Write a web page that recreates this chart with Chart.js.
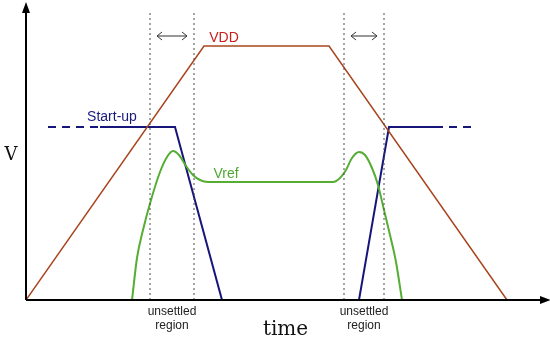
<!DOCTYPE html>
<html>
<head>
<meta charset="utf-8">
<script src="https://cdn.jsdelivr.net/npm/chart.js@4.4.1/dist/chart.umd.min.js"></script>
<style>
  html, body { margin: 0; padding: 0; background: #fff; }
  #wrap { width: 550px; height: 340px; }
</style>
</head>
<body>
<div id="wrap"><canvas id="chart" width="550" height="340"></canvas></div>
<script>
// time / voltage in arbitrary units
const vddT = [0, 178, 303, 481];
const vddV = [0, 254, 254, 0];

const startT = [74, 149, 196, 333, 363, 409];
const startV = [173, 173, 0, 0, 173, 173];
const startDashLeftT = [22, 74];
const startDashRightT = [409, 449];
const startLevel = 173;

const vrefT = [106, 111, 117, 125, 134, 141, 147, 153, 160, 167, 174, 182, 307, 314, 320, 326, 333, 339, 346, 352, 358, 364, 370, 376];
const vrefV = [0, 42, 70, 100, 128, 143, 149, 145, 134, 125, 120, 118, 118, 122, 130, 142, 148, 145, 132, 115, 90, 65, 38, 0];

// borders of the two unsettled regions
const regionT = [124, 168, 318, 358];
const regionTop = 288;

const xMax = 519;
const yMax = 292;

function pts(xs, ys) { return xs.map((x, i) => ({ x: x, y: ys[i] })); }

const dashed = regionT.map(t => ({
  data: [{ x: t, y: 0 }, { x: t, y: regionTop }],
  borderColor: '#4a4a4a',
  borderWidth: 1,
  borderDash: [2, 3],
  pointRadius: 0,
  showLine: true
}));

const extras = {
  id: 'extras',
  afterDatasetsDraw(chart) {
    const ctx = chart.ctx;
    const xs = chart.scales.x, ys = chart.scales.y;
    const a = chart.chartArea;
    ctx.save();
    // axis arrows
    ctx.strokeStyle = '#000';
    ctx.fillStyle = '#000';
    ctx.lineWidth = 2;
    ctx.beginPath();
    ctx.moveTo(a.left, a.bottom); ctx.lineTo(a.left, a.top - 2);
    ctx.moveTo(a.left, a.bottom); ctx.lineTo(a.right + 2, a.bottom);
    ctx.stroke();
    ctx.beginPath();
    ctx.moveTo(a.left, a.top - 6); ctx.lineTo(a.left - 4, a.top + 5); ctx.lineTo(a.left + 4, a.top + 5); ctx.closePath();
    ctx.fill();
    ctx.beginPath();
    ctx.moveTo(a.right + 6, a.bottom); ctx.lineTo(a.right - 5, a.bottom - 4); ctx.lineTo(a.right - 5, a.bottom + 4); ctx.closePath();
    ctx.fill();

    // double arrows over the unsettled regions
    ctx.strokeStyle = '#333';
    ctx.lineWidth = 1;
    [[regionT[0], regionT[1]], [regionT[2], regionT[3]]].forEach(([t0, t1]) => {
      const x0 = xs.getPixelForValue(t0) + 7, x1 = xs.getPixelForValue(t1) - 7;
      const y = ys.getPixelForValue(264);
      ctx.beginPath();
      ctx.moveTo(x0, y); ctx.lineTo(x1, y);
      ctx.moveTo(x0 + 5, y - 4); ctx.lineTo(x0, y); ctx.lineTo(x0 + 5, y + 4);
      ctx.moveTo(x1 - 5, y - 4); ctx.lineTo(x1, y); ctx.lineTo(x1 - 5, y + 4);
      ctx.stroke();
    });

    // labels
    ctx.textAlign = 'center';
    ctx.textBaseline = 'middle';
    ctx.font = '14px "Liberation Sans", Arial, sans-serif';
    ctx.fillStyle = '#c8201a';
    ctx.fillText('VDD', xs.getPixelForValue(198), ys.getPixelForValue(262));
    ctx.fillStyle = '#1a1a7a';
    ctx.fillText('Start-up', xs.getPixelForValue(86), ys.getPixelForValue(183));
    ctx.fillStyle = '#4fa830';
    ctx.fillText('Vref', xs.getPixelForValue(200), ys.getPixelForValue(126));

    ctx.fillStyle = '#222';
    ctx.font = '12px "Liberation Sans", Arial, sans-serif';
    [(regionT[0] + regionT[1]) / 2, (regionT[2] + regionT[3]) / 2].forEach(t => {
      const x = xs.getPixelForValue(t);
      ctx.fillText('unsettled', x, a.bottom + 12);
      ctx.fillText('region', x, a.bottom + 26);
    });

    ctx.font = '20px "DejaVu Serif", serif';
    ctx.fillStyle = '#111';
    ctx.fillText('time', (a.left + a.right) / 2, a.bottom + 30);
    ctx.font = '18px "DejaVu Serif", serif';
    ctx.fillText('V', 11, ys.getPixelForValue(145));
    ctx.restore();
  }
};

new Chart(document.getElementById('chart'), {
  type: 'scatter',
  data: {
    datasets: [
      ...dashed,
      {
        label: 'VDD',
        data: pts(vddT, vddV),
        borderColor: '#a8451f',
        borderWidth: 1.5,
        pointRadius: 0,
        showLine: true
      },
      {
        label: 'Vref',
        data: pts(vrefT, vrefV),
        borderColor: '#55ad33',
        borderWidth: 2,
        pointRadius: 0,
        showLine: true,
        cubicInterpolationMode: 'monotone'
      },
      {
        label: 'Start-up',
        data: pts(startT, startV),
        borderColor: '#16167a',
        borderWidth: 2,
        pointRadius: 0,
        showLine: true
      },
      {
        label: 'Start-up dashed',
        data: pts(startDashLeftT, [startLevel, startLevel]),
        borderColor: '#16167a',
        borderWidth: 2,
        borderDash: [8, 6],
        pointRadius: 0,
        showLine: true
      },
      {
        label: 'Start-up dashed 2',
        data: pts(startDashRightT, [startLevel, startLevel]),
        borderColor: '#16167a',
        borderWidth: 2,
        borderDash: [8, 6],
        pointRadius: 0,
        showLine: true
      }
    ]
  },
  options: {
    responsive: false,
    animation: false,
    layout: { padding: { left: 26, top: 8, right: 5, bottom: 40 } },
    plugins: { legend: { display: false }, tooltip: { enabled: false } },
    scales: {
      x: {
        type: 'linear', min: 0, max: xMax,
        ticks: { display: false },
        grid: { display: false, drawTicks: false },
        border: { display: false }
      },
      y: {
        type: 'linear', min: 0, max: yMax,
        ticks: { display: false },
        grid: { display: false, drawTicks: false },
        border: { display: false }
      }
    }
  },
  plugins: [extras]
});
</script>
</body>
</html>
